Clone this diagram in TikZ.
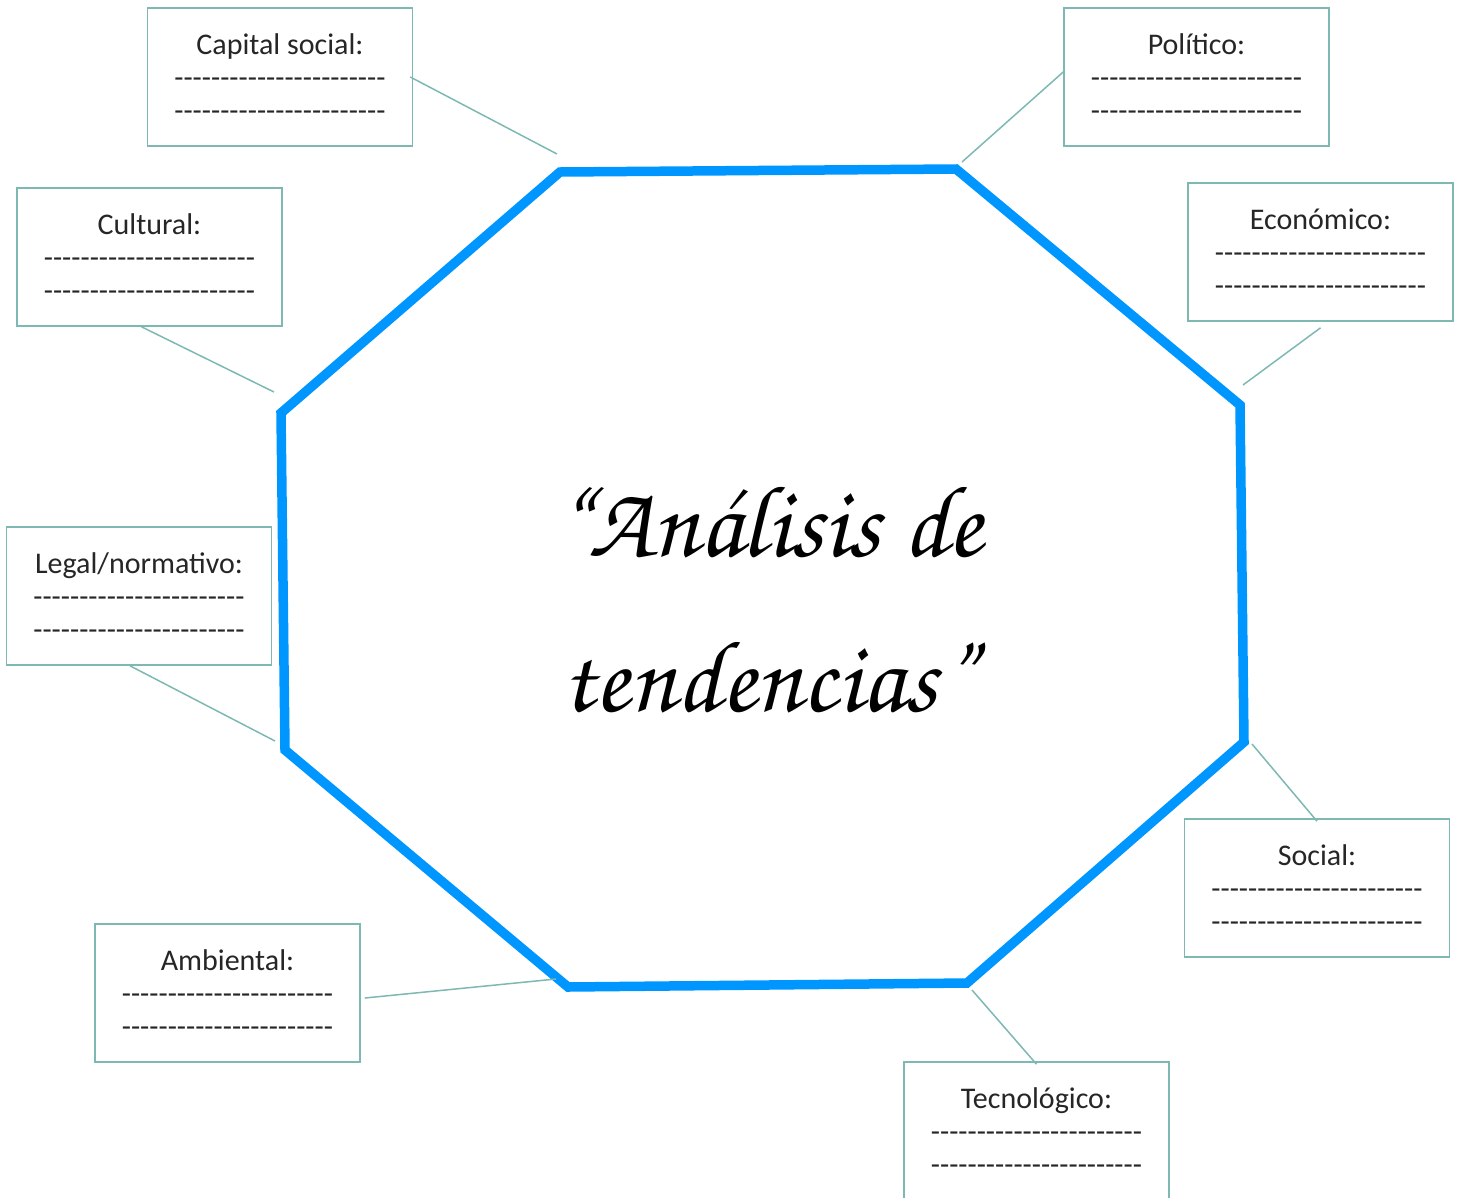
\documentclass[tikz,border=0pt]{standalone}
\usepackage[T1,TU]{fontenc}
\usepackage{fontspec}
\setmainfont{Carlito}
\definecolor{octblue}{RGB}{0,150,255}
\definecolor{boxteal}{RGB}{125,185,178}
\newcommand\dashrow{-{}-{}-{}-{}-{}-{}-{}-{}-{}-{}-{}-{}-{}-{}-{}-{}-{}-{}-{}-{}-{}-{}-{}}
\newcommand\boxtext[1]{#1\\\dashrow\\\dashrow}
\tikzset{
  factor/.style={draw=boxteal, line width=1.6pt, fill=white, minimum width=265pt,
    minimum height=138pt, inner sep=0pt, align=center, text=black!85,
    font=\fontsize{30}{33}\selectfont},
  link/.style={draw=boxteal, line width=1.5pt},
  octo/.style={draw=octblue, line width=9.5pt, line join=miter},
  titlefont/.style={font=\fontencoding{T1}\fontfamily{pzc}\fontsize{102}{155}\selectfont}
}
\begin{document}
\begin{tikzpicture}[x=1pt,y=-1pt]
\useasboundingbox (0,0) rectangle (1463,1197);
% octagon vertices
\coordinate (v1) at (560,172);
\coordinate (v2) at (956,169);
\coordinate (v3) at (1240,405);
\coordinate (v4) at (1244,742);
\coordinate (v5) at (967,983);
\coordinate (v6) at (568,987);
\coordinate (v7) at (285,750);
\coordinate (v8) at (281,413);
\draw[octo] (v1) -- (v2) -- (v3) -- (v4) -- (v5) -- (v6) -- (v7) -- (v8) -- cycle;
% boxes
\node[factor] (cap) at (280,77) {\boxtext{Capital social:}};
\node[factor] (pol) at (1196.5,77) {\boxtext{Político:}};
\node[factor] (cul) at (149.5,257) {\boxtext{Cultural:}};
\node[factor] (eco) at (1320.5,252) {\boxtext{Económico:}};
\node[factor] (leg) at (139,596) {\boxtext{Legal/normativo:}};
\node[factor] (soc) at (1317,888) {\boxtext{Social:}};
\node[factor] (amb) at (227.5,993) {\boxtext{Ambiental:}};
\node[factor] (tec) at (1036.5,1131) {\boxtext{Tecnológico:}};
% connector free ends near the octagon
\coordinate (ecap) at (557,154);
\coordinate (epol) at (962,162);
\coordinate (ecul) at (274,392);
\coordinate (eeco) at (1243,385);
\coordinate (eleg) at (275,741);
\coordinate (esoc) at (1252,744);
\coordinate (eamb) at (556,979);
\coordinate (etec) at (972,990);
\draw[link] ([xshift=-3pt]cap.east) -- (ecap);
\draw[link] ([yshift=5pt]pol.west) -- (epol);
\draw[link] ([xshift=-8pt]cul.south) -- (ecul);
\draw[link] ([yshift=-6pt]eco.south) -- (eeco);
\draw[link] ([xshift=-9pt]leg.south) -- (eleg);
\draw[link] ([yshift=-3pt]soc.north) -- (esoc);
\draw[link] ([xshift=4pt,yshift=-5pt]amb.east) -- (eamb);
\draw[link] ([yshift=-3pt]tec.north) -- (etec);
% title
\node[titlefont, align=center, inner sep=0pt] (title) at (768,598) {``An\'alisis de\\tendencias''};
\end{tikzpicture}
\end{document}
